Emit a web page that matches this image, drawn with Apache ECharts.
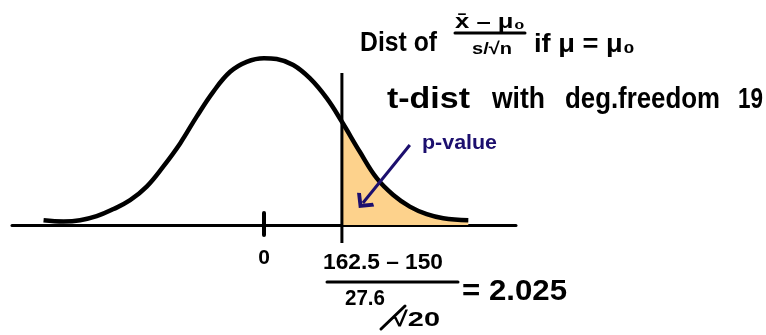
<!DOCTYPE html>
<html>
<head>
<meta charset="utf-8">
<script src="https://cdn.jsdelivr.net/npm/echarts@6/dist/echarts.min.js"></script>
<style>
  html, body { margin: 0; background: #fff; }
  #chart { width: 766px; height: 335px; }
</style>
</head>
<body>
<div id="chart"></div>
<script>
// hand sketch of the t density
var curveT = [-5.73, -5.21, -4.78, -4.35, -3.91, -3.48, -3.05, -2.62, -2.18, -1.75, -1.32, -0.88, -0.45, 0,
  0.33, 0.76, 1.19, 1.63, 2.025, 2.49, 2.93, 3.36, 3.79, 4.23, 4.66, 5.31];
var curveY = [0.012, 0.009, 0.012, 0.022, 0.04, 0.062, 0.096, 0.146, 0.204, 0.271, 0.333, 0.383, 0.408, 0.417,
  0.415, 0.4, 0.367, 0.317, 0.258, 0.183, 0.117, 0.075, 0.046, 0.027, 0.017, 0.012];

var tStat = 2.025;
var cutLine = [0.38, -0.045];      // top / bottom of the line at t = 2.025
var zeroTick = [0.03, -0.025];
var arrowFrom = [3.79, 0.2];
var arrowTo = [2.57, 0.055];
var tickValues = [0];
var tickLabels = ['0'];

var ink = '#000';
var navy = '#1c0f6e';
var hand = "'Liberation Sans', 'DejaVu Sans', sans-serif";

var curve = curveT.map(function (t, i) { return [t, curveY[i]]; });
var tail = curve.filter(function (p) { return p[0] >= tStat; });

var chart = echarts.init(document.getElementById('chart'));

// squeeze / stretch a text so it covers the same width as the handwriting
var measure = document.createElement('canvas').getContext('2d');
function txt(text, left, right, cy, size, color) {
  measure.font = 'bold ' + size + 'px ' + hand;
  var w = measure.measureText(text).width;
  return {
    type: 'text',
    x: left,
    y: cy,
    scaleX: (right - left) / w,
    silent: true,
    style: {
      text: text,
      fontSize: size,
      fontFamily: hand,
      fontWeight: 'bold',
      fill: color || ink,
      textVerticalAlign: 'middle'
    }
  };
}

function seg(x1, y1, x2, y2) {
  return {
    type: 'line',
    silent: true,
    shape: { x1: x1, y1: y1, x2: x2, y2: y2 },
    style: { stroke: ink, lineWidth: 3, lineCap: 'round' }
  };
}

var option = {
  animation: false,
  grid: { left: 12, right: 250, top: 0, bottom: 0, outerBoundsMode: 'none' },
  xAxis: {
    type: 'value',
    min: -6.55,
    max: 6.55,
    axisLine: { onZero: true, lineStyle: { color: ink, width: 3 } },
    axisTick: { show: false },
    axisLabel: { show: false },
    splitLine: { show: false }
  },
  yAxis: {
    type: 'value',
    min: -0.275,
    max: 0.5625,
    show: false
  },
  series: [
    {
      // shaded p-value tail
      type: 'line',
      data: tail,
      smooth: 0.4,
      symbol: 'none',
      lineStyle: { width: 0 },
      areaStyle: { color: '#fdd28c', opacity: 1 },
      z: 1
    },
    {
      type: 'line',
      data: curve,
      smooth: 0.4,
      symbol: 'none',
      lineStyle: { color: ink, width: 4.5 },
      z: 3
    },
    {
      type: 'line',
      data: [[tStat, cutLine[0]], [tStat, cutLine[1]]],
      symbol: 'none',
      lineStyle: { color: ink, width: 3 },
      z: 4
    },
    {
      type: 'line',
      data: [[tickValues[0], zeroTick[0]], [tickValues[0], zeroTick[1]]],
      symbol: 'none',
      lineStyle: { color: ink, width: 4, cap: 'round' },
      z: 4
    },
    {
      // tick label under the zero mark
      type: 'scatter',
      data: tickValues.map(function (v) { return [v, -0.083]; }),
      symbolSize: 1,
      itemStyle: { color: 'rgba(0,0,0,0)', opacity: 1 },
      label: {
        show: true,
        position: 'inside',
        formatter: function (p) { return tickLabels[p.dataIndex]; },
        fontSize: 21,
        fontWeight: 'bold',
        fontFamily: hand,
        color: ink,
        opacity: 1,
        textBorderWidth: 0
      },
      z: 4
    },
    {
      type: 'line',
      data: [],
      markLine: {
        silent: true,
        symbol: ['none', 'path://M10,0 L20,10 L17,12 L10,5 L3,12 L0,10 Z'],
        symbolSize: [22, 13],
        label: { show: false },
        lineStyle: { color: navy, width: 3, type: 'solid' },
        data: [[{ coord: arrowFrom }, { coord: arrowTo }]]
      },
      z: 5
    }
  ],
  graphic: [
    txt('Dist of', 360, 437, 43, 28),
    txt('x\u0304 \u2013 \u03bc\u2080', 455, 525, 22, 20),
    seg(455, 33, 525, 33),
    txt('s/\u221an', 472, 512, 49, 17),
    txt('if \u03bc = \u03bc\u2080', 534, 635, 45, 26),
    txt('t-dist', 387, 470, 100, 30),
    txt('with', 492, 545, 100, 30),
    txt('deg.freedom', 565, 720, 100, 30),
    txt('19', 738, 763, 100, 30),
    txt('p-value', 422, 497, 143, 20, navy),
    txt('162.5 \u2013 150', 323, 443, 263, 22),
    seg(327, 282, 458, 282),
    txt('27.6', 345, 385, 299, 22),
    seg(405, 306, 381, 329),
    txt('\u221a20', 392, 440, 320, 21),
    txt('= 2.025', 462, 567, 292, 30)
  ]
};

chart.setOption(option);
</script>
</body>
</html>
